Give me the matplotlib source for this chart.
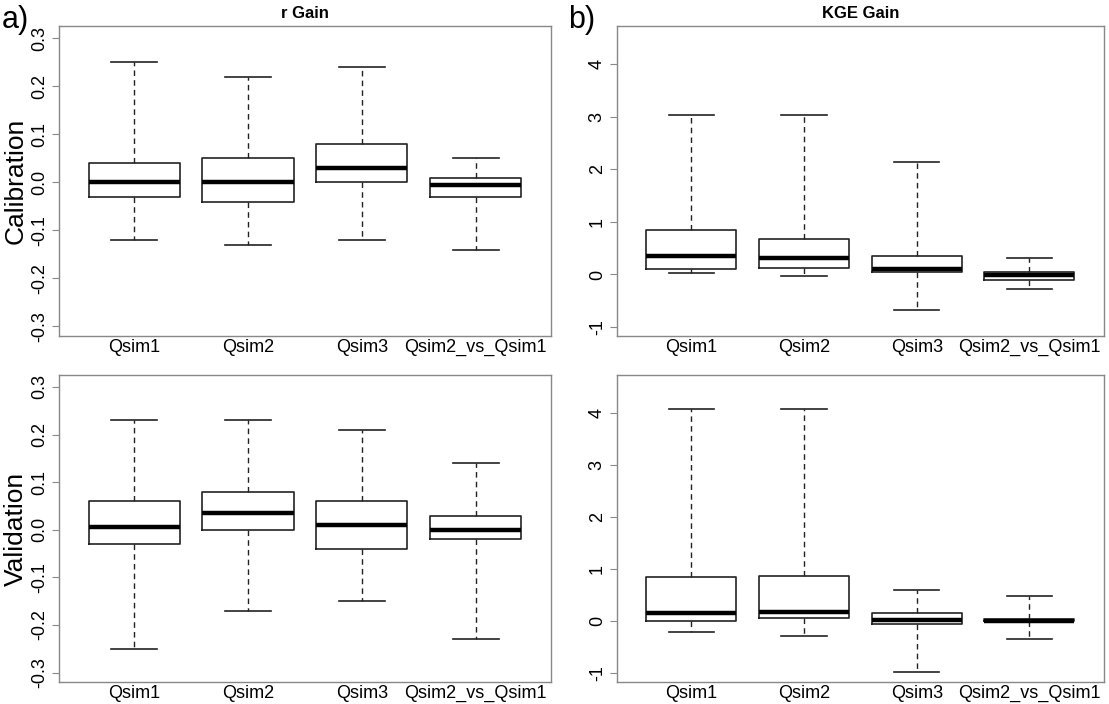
import matplotlib.pyplot as plt

plt.rcParams['font.family'] = ['Liberation Sans', 'DejaVu Sans']

labels = ['Qsim1', 'Qsim2', 'Qsim3', 'Qsim2_vs_Qsim1']

# each row: whisker low, q1, median, q3, whisker high
r_cal = [[-0.12, -0.03, 0.0, 0.04, 0.25],
         [-0.13, -0.04, 0.0, 0.05, 0.22],
         [-0.12, 0.0, 0.03, 0.08, 0.24],
         [-0.14, -0.03, -0.005, 0.01, 0.05]]
r_val = [[-0.25, -0.03, 0.005, 0.06, 0.23],
         [-0.17, 0.0, 0.035, 0.08, 0.23],
         [-0.15, -0.04, 0.01, 0.06, 0.21],
         [-0.23, -0.02, 0.0, 0.03, 0.14]]
kge_cal = [[0.02, 0.10, 0.36, 0.85, 3.03],
           [-0.02, 0.12, 0.31, 0.67, 3.03],
           [-0.68, 0.05, 0.10, 0.36, 2.13],
           [-0.27, -0.10, -0.01, 0.05, 0.32]]
kge_val = [[-0.20, 0.01, 0.16, 0.85, 4.07],
           [-0.28, 0.07, 0.17, 0.86, 4.07],
           [-0.98, -0.05, 0.02, 0.16, 0.60],
           [-0.35, 0.00, 0.01, 0.04, 0.48]]

r_ticks = [-0.3, -0.2, -0.1, 0.0, 0.1, 0.2, 0.3]
kge_ticks = [-1, 0, 1, 2, 3, 4]


def make_stats(rows):
    stats = []
    for lo, q1, med, q3, hi in rows:
        stats.append({'whislo': lo, 'q1': q1, 'med': med, 'q3': q3, 'whishi': hi, 'fliers': []})
    return stats


def draw_panel(ax, rows, ylim, ticks, ticklabels):
    box_col = '#222222'
    ax.bxp(make_stats(rows), positions=[1, 2, 3, 4], widths=0.8,
           boxprops=dict(color=box_col, linewidth=1.2),
           medianprops=dict(color='black', linewidth=3.2, solid_capstyle='butt'),
           whiskerprops=dict(color=box_col, linewidth=1.0, linestyle=(0, (4, 3))),
           capprops=dict(color=box_col, linewidth=1.2),
           capwidths=0.4, showfliers=False)
    ax.set_xlim(0.34, 4.66)
    ax.set_ylim(*ylim)
    ax.set_xticks([1, 2, 3, 4])
    ax.set_xticklabels(labels, fontsize=13)
    ax.set_yticks(ticks)
    ax.set_yticklabels(ticklabels, fontsize=13, rotation=90, va='center')
    ax.tick_params(axis='x', length=0, pad=2)
    ax.tick_params(axis='y', length=5, color='#888888', pad=3)
    for s in ax.spines.values():
        s.set_color('#888888')
        s.set_linewidth(1.0)


fig = plt.figure(figsize=(11.09, 7.04), dpi=100)
ax1 = fig.add_axes([0.0532, 0.5227, 0.4436, 0.440])
ax2 = fig.add_axes([0.5563, 0.5227, 0.4390, 0.440])
ax3 = fig.add_axes([0.0532, 0.031, 0.4436, 0.4363])
ax4 = fig.add_axes([0.5563, 0.031, 0.4390, 0.4363])

r_lab = ['-0.3', '-0.2', '-0.1', '0.0', '0.1', '0.2', '0.3']
k_lab = [str(t) for t in kge_ticks]

draw_panel(ax1, r_cal, (-0.32, 0.325), r_ticks, r_lab)
draw_panel(ax2, kge_cal, (-1.17, 4.72), kge_ticks, k_lab)
draw_panel(ax3, r_val, (-0.32, 0.325), r_ticks, r_lab)
draw_panel(ax4, kge_val, (-1.17, 4.73), kge_ticks, k_lab)

ax1.set_title('r Gain', fontsize=12, fontweight='bold', pad=6)
ax2.set_title('KGE Gain', fontsize=12, fontweight='bold', pad=6)
ax1.set_ylabel('Calibration', fontsize=19, labelpad=2)
ax3.set_ylabel('Validation', fontsize=19, labelpad=2)

fig.text(0.002, 0.993, 'a)', fontsize=22, va='top', ha='left')
fig.text(0.512, 0.993, 'b)', fontsize=22, va='top', ha='left')

fig.savefig('out.png', dpi=100)
